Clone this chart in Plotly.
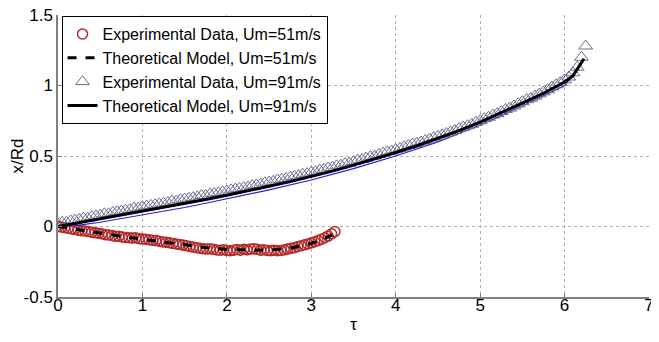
import plotly.graph_objects as go

# ---------------- data ----------------
step51 = 0.04
exp51_y = [0.000, -0.004, -0.008, -0.012, -0.018, -0.020, -0.026, -0.030, -0.032, -0.036,
           -0.040, -0.045, -0.048, -0.052, -0.058, -0.060, -0.064, -0.070, -0.070, -0.074,
           -0.078, -0.080, -0.082, -0.080, -0.086, -0.088, -0.090, -0.094, -0.098, -0.100,
           -0.104, -0.110, -0.112, -0.116, -0.120, -0.124, -0.128, -0.132, -0.136, -0.142,
           -0.146, -0.150, -0.154, -0.158, -0.160, -0.158, -0.162, -0.166, -0.168, -0.165,
           -0.170, -0.172, -0.168, -0.164, -0.168, -0.162, -0.165, -0.160, -0.158, -0.162,
           -0.168, -0.165, -0.170, -0.172, -0.168, -0.172, -0.170, -0.165, -0.160, -0.155,
           -0.150, -0.142, -0.136, -0.130, -0.124, -0.116, -0.108, -0.100, -0.090, -0.080,
           -0.068, -0.052, -0.036]
exp51_x = [round(i * step51, 2) for i in range(len(exp51_y))]

theo51_x = [0, 0.25, 0.5, 0.75, 1.0, 1.25, 1.5, 1.75, 2.0, 2.25, 2.5, 2.75, 3.0, 3.1, 3.2, 3.25]
theo51_y = [0, -0.025, -0.05, -0.07, -0.09, -0.11, -0.13, -0.15, -0.163, -0.168, -0.168, -0.155,
            -0.12, -0.10, -0.075, -0.06]

step91 = 0.05
exp91_y = [0.02, 0.03, 0.03, 0.04, 0.045, 0.05, 0.06, 0.06, 0.07, 0.075,
           0.08, 0.09, 0.09, 0.10, 0.105, 0.11, 0.115, 0.12, 0.13, 0.13,
           0.14, 0.145, 0.15, 0.155, 0.16, 0.165, 0.17, 0.18, 0.18, 0.19,
           0.195, 0.20, 0.205, 0.21, 0.22, 0.22, 0.23, 0.235, 0.24, 0.245,
           0.25, 0.26, 0.265, 0.27, 0.275, 0.28, 0.29, 0.295, 0.30, 0.31,
           0.315, 0.32, 0.33, 0.335, 0.34, 0.35, 0.355, 0.36, 0.37, 0.375,
           0.385, 0.39, 0.40, 0.405, 0.415, 0.42, 0.43, 0.435, 0.445, 0.45,
           0.46, 0.47, 0.475, 0.485, 0.495, 0.50, 0.51, 0.52, 0.53, 0.535,
           0.545, 0.555, 0.565, 0.575, 0.585, 0.59, 0.60, 0.61, 0.62, 0.63,
           0.64, 0.65, 0.66, 0.67, 0.68, 0.695, 0.705, 0.715, 0.725, 0.74,
           0.75, 0.765, 0.775, 0.79, 0.80, 0.815, 0.83, 0.84, 0.855, 0.87,
           0.885, 0.90, 0.91, 0.925, 0.94, 0.955, 0.97, 0.99, 1.005, 1.02,
           1.04, 1.06, 1.09, 1.13, 1.20, 1.28]
exp91_x = [round(i * step91, 2) for i in range(len(exp91_y))]

theo91_x = [0, 0.25, 0.5, 0.75, 1.0, 1.25, 1.5, 1.75, 2.0, 2.25, 2.5, 2.75, 3.0, 3.25, 3.5,
            3.75, 4.0, 4.25, 4.5, 4.75, 5.0, 5.25, 5.5, 5.75, 6.0, 6.1, 6.2, 6.23]
theo91_y = [0, 0.027, 0.055, 0.082, 0.11, 0.137, 0.165, 0.192, 0.222, 0.252, 0.285, 0.318,
            0.355, 0.393, 0.435, 0.478, 0.525, 0.573, 0.625, 0.68, 0.74, 0.805, 0.875, 0.945,
            1.025, 1.07, 1.16, 1.19]

blue_x = [0, 0.25, 0.5, 0.75, 1.0, 1.25, 1.5, 1.75, 2.0, 2.5, 3.0, 3.5, 4.0, 4.5, 5.0, 5.5, 6.0, 6.2]
blue_y = [0, 0.01, 0.03, 0.055, 0.085, 0.11, 0.135, 0.165, 0.195, 0.26, 0.33, 0.41, 0.5, 0.6,
          0.72, 0.855, 1.0, 1.15]

x_ticks = [0, 1, 2, 3, 4, 5, 6, 7]
x_ticktext = ["0", "1", "2", "3", "4", "5", "6", "7"]
y_ticks = [-0.5, 0, 0.5, 1, 1.5]
y_ticktext = ["-0.5", "0", "0.5", "1", "1.5"]

FONT = "Liberation Sans, Arial, sans-serif"

fig = go.Figure()
fig.add_trace(go.Scatter(x=exp51_x, y=exp51_y, mode="markers",
                         name="Experimental Data, Um=51m/s",
                         marker=dict(symbol="circle-open", size=10, color="#b22a2a",
                                     line=dict(width=1.5, color="#b22a2a"))))
fig.add_trace(go.Scatter(x=theo51_x, y=theo51_y, mode="lines",
                         name="Theoretical Model, Um=51m/s",
                         line=dict(color="black", width=3, dash="dash")))
fig.add_trace(go.Scatter(x=blue_x, y=blue_y, mode="lines", showlegend=False,
                         line=dict(color="#2020e0", width=1.2)))
fig.add_trace(go.Scatter(x=exp91_x, y=exp91_y, mode="markers",
                         name="Experimental Data, Um=91m/s",
                         marker=dict(symbol="triangle-up-open", size=12, color="#6a6a90",
                                     line=dict(width=1, color="#6a6a90"))))
fig.add_trace(go.Scatter(x=theo91_x, y=theo91_y, mode="lines",
                         name="Theoretical Model, Um=91m/s",
                         line=dict(color="black", width=3)))

# page body has an 8px default margin: keep the whole figure inside the 659x342 window
fig.update_layout(
    width=643, height=326,
    margin=dict(l=50, r=2, t=7, b=37, autoexpand=False),
    paper_bgcolor="white", plot_bgcolor="white",
    font=dict(family=FONT, size=16, color="black"),
    showlegend=True,
    legend=dict(x=0.006, y=0.996, xanchor="left", yanchor="top",
                bgcolor="white", bordercolor="black", borderwidth=1,
                font=dict(size=16), tracegroupgap=0, itemwidth=30),
    xaxis=dict(range=[0, 7], tickvals=x_ticks, ticktext=x_ticktext, ticks="inside", ticklen=4,
               tickcolor="#808080", showline=True, linecolor="#808080", linewidth=1.5,
               showgrid=True, gridcolor="#b0b0b0", griddash="dot", gridwidth=1,
               zeroline=False, tickfont=dict(size=17), ticklabeloverflow="allow",
               ticklabelstandoff=-8, automargin=False,
               title=dict(text="τ", font=dict(size=17), standoff=6)),
    yaxis=dict(range=[-0.5, 1.5], tickvals=y_ticks, ticktext=y_ticktext, ticks="inside",
               ticklen=4, tickcolor="#808080", showline=True, linecolor="#808080",
               linewidth=1.5, showgrid=True, gridcolor="#b0b0b0", griddash="dot",
               gridwidth=1, zeroline=False, tickfont=dict(size=17),
               ticklabeloverflow="allow", automargin=False,
               title=dict(text="x/Rd", font=dict(size=17), standoff=6)),
)

fig.write_html("out.html")
